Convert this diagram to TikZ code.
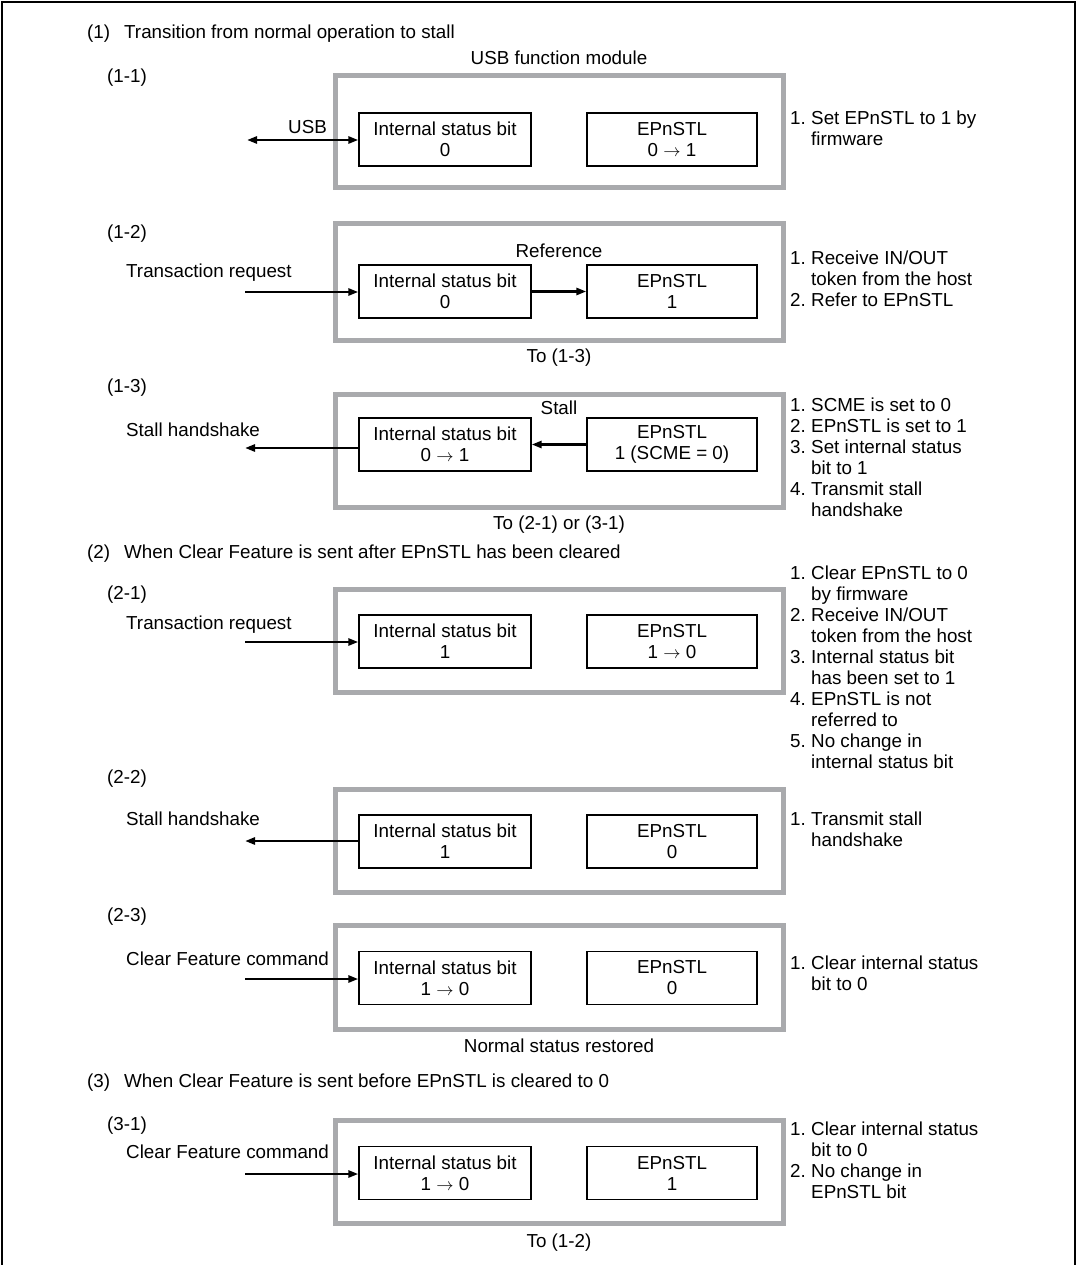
\documentclass[tikz,border=0pt]{standalone}
\usepackage{fontspec}
\setmainfont{Liberation Sans}
\usetikzlibrary{arrows.meta}
\newcommand\fsz{\fontsize{18.8}{21}\selectfont}
\newcommand\nnum[1]{\makebox[21pt][l]{#1}}
\newcommand\nind{\hspace*{21pt}}
\definecolor{gry}{HTML}{A9AAAD}
\begin{document}
\begin{tikzpicture}[x=1pt,y=-1pt,
  txt/.style={inner sep=0pt, font=\fsz, text height=13.5pt, text depth=0pt, anchor=west},
  ctxt/.style={txt, anchor=center},
  note/.style={inner sep=0pt, font=\fsz, align=left, anchor=north west},
  modbox/.style={draw=gry, line width=5pt},
  bitbox/.style={draw, line width=1.3pt, minimum width=172pt, minimum height=53pt, inner sep=0pt, align=center, font=\fsz},
  stlbox/.style={bitbox, minimum width=170pt},
  arr/.style={line width=2.8pt, -{Triangle[length=10pt,width=7pt]}},
  darr/.style={line width=2.8pt, {Triangle[length=10pt,width=7pt]}-{Triangle[length=10pt,width=7pt]}}
]
\useasboundingbox (0,0) rectangle (1077,1265);
% frame
\draw[line width=2.5pt] (2,1265) -- (2,2) -- (1075,2) -- (1075,1265);

% ---------- (1)
\node[txt] (h1n) at (87,32) {(1)};
\node[txt] (h1t) at (124,32) {Transition from normal operation to stall};
\node[ctxt] (usbfm) at (559,58) {USB function module};

% (1-1)
\node[txt] (l11) at (107,76) {(1-1)};
\draw[modbox] (335.5,75.5) rectangle (783.5,188);
\node[bitbox] (isb11) at (445,139.5) {Internal status bit\\0};
\node[stlbox] (stl11) at (672,139.5) {EPnSTL\\0 $\rightarrow$ 1};
\node[txt] (usb) at (288,127) {USB};
\coordinate (e11) at (247,140);
\draw[darr] (e11) -- (isb11.west |- e11);
\node[note] (n11) at (790,111) {\nnum{1.}Set EPnSTL to 1 by\\\nind firmware};

% (1-2)
\node[txt] (l12) at (107,232) {(1-2)};
\draw[modbox] (335.5,224) rectangle (783.5,340);
\node[ctxt] (ref) at (559,251) {Reference};
\node[bitbox] (isb12) at (445,291.5) {Internal status bit\\0};
\node[stlbox] (stl12) at (672,291.5) {EPnSTL\\1};
\node[txt] (tr12) at (126,271) {Transaction request};
\coordinate (e12) at (245,292);
\draw[arr] (e12) -- (isb12.west |- e12);
\draw[arr] (isb12.east) -- (stl12.west);
\node[note] (n12) at (790,251) {\nnum{1.}Receive IN/OUT\\\nind token from the host\\\nnum{2.}Refer to EPnSTL};
\node[ctxt] (to13) at (559,356) {To (1-3)};

% (1-3)
\node[txt] (l13) at (107,386) {(1-3)};
\draw[modbox] (335.5,394) rectangle (783.5,507);
\node[ctxt] (stall) at (559,408) {Stall};
\node[bitbox] (isb13) at (445,444.5) {Internal status bit\\0 $\rightarrow$ 1};
\node[stlbox] (stl13) at (672,444.5) {EPnSTL\\1 (SCME = 0)};
\node[txt] (sh13) at (126,430) {Stall handshake};
\coordinate (e13) at (245,448);
\draw[arr] (isb13.west |- e13) -- (e13);
\draw[arr] (stl13.west) -- (isb13.east);
\node[note] (n13) at (790,398) {\nnum{1.}SCME is set to 0\\\nnum{2.}EPnSTL is set to 1\\\nnum{3.}Set internal status\\\nind bit to 1\\\nnum{4.}Transmit stall\\\nind handshake};
\node[ctxt] (to21) at (559,523) {To (2-1) or (3-1)};

% ---------- (2)
\node[txt] (h2n) at (87,552) {(2)};
\node[txt] (h2t) at (124,552) {When Clear Feature is sent after EPnSTL has been cleared};

% (2-1)
\node[txt] (l21) at (107,593) {(2-1)};
\draw[modbox] (335.5,589.5) rectangle (783.5,692);
\node[bitbox] (isb21) at (445,641.5) {Internal status bit\\1};
\node[stlbox] (stl21) at (672,641.5) {EPnSTL\\1 $\rightarrow$ 0};
\node[txt] (tr21) at (126,623) {Transaction request};
\coordinate (e21) at (245,642);
\draw[arr] (e21) -- (isb21.west |- e21);
\node[note] (n21) at (790,566) {\nnum{1.}Clear EPnSTL to 0\\\nind by firmware\\\nnum{2.}Receive IN/OUT\\\nind token from the host\\\nnum{3.}Internal status bit\\\nind has been set to 1\\\nnum{4.}EPnSTL is not\\\nind referred to\\\nnum{5.}No change in\\\nind internal status bit};

% (2-2)
\node[txt] (l22) at (107,777) {(2-2)};
\draw[modbox] (335.5,789) rectangle (783.5,892);
\node[bitbox] (isb22) at (445,841.5) {Internal status bit\\1};
\node[stlbox] (stl22) at (672,841.5) {EPnSTL\\0};
\node[txt] (sh22) at (126,819) {Stall handshake};
\coordinate (e22) at (245,841);
\draw[arr] (isb22.west |- e22) -- (e22);
\node[note] (n22) at (790,812) {\nnum{1.}Transmit stall\\\nind handshake};

% (2-3)
\node[txt] (l23) at (107,915) {(2-3)};
\draw[modbox] (335.5,925) rectangle (783.5,1029);
\node[bitbox] (isb23) at (445,978) {Internal status bit\\1 $\rightarrow$ 0};
\node[stlbox] (stl23) at (672,978) {EPnSTL\\0};
\node[txt] (cf23) at (126,959) {Clear Feature command};
\coordinate (e23) at (245,979);
\draw[arr] (e23) -- (isb23.west |- e23);
\node[note] (n23) at (790,956) {\nnum{1.}Clear internal status\\\nind bit to 0};
\node[ctxt] (nsr) at (559,1046) {Normal status restored};

% ---------- (3)
\node[txt] (h3n) at (87,1081) {(3)};
\node[txt] (h3t) at (124,1081) {When Clear Feature is sent before EPnSTL is cleared to 0};

% (3-1)
\node[txt] (l31) at (107,1124) {(3-1)};
\draw[modbox] (335.5,1120.5) rectangle (783.5,1223);
\node[bitbox] (isb31) at (445,1173) {Internal status bit\\1 $\rightarrow$ 0};
\node[stlbox] (stl31) at (672,1173) {EPnSTL\\1};
\node[txt] (cf31) at (126,1152) {Clear Feature command};
\coordinate (e31) at (245,1174);
\draw[arr] (e31) -- (isb31.west |- e31);
\node[note] (n31) at (790,1122) {\nnum{1.}Clear internal status\\\nind bit to 0\\\nnum{2.}No change in\\\nind EPnSTL bit};
\node[ctxt] (to12) at (559,1241) {To (1-2)};
\end{tikzpicture}
\end{document}
